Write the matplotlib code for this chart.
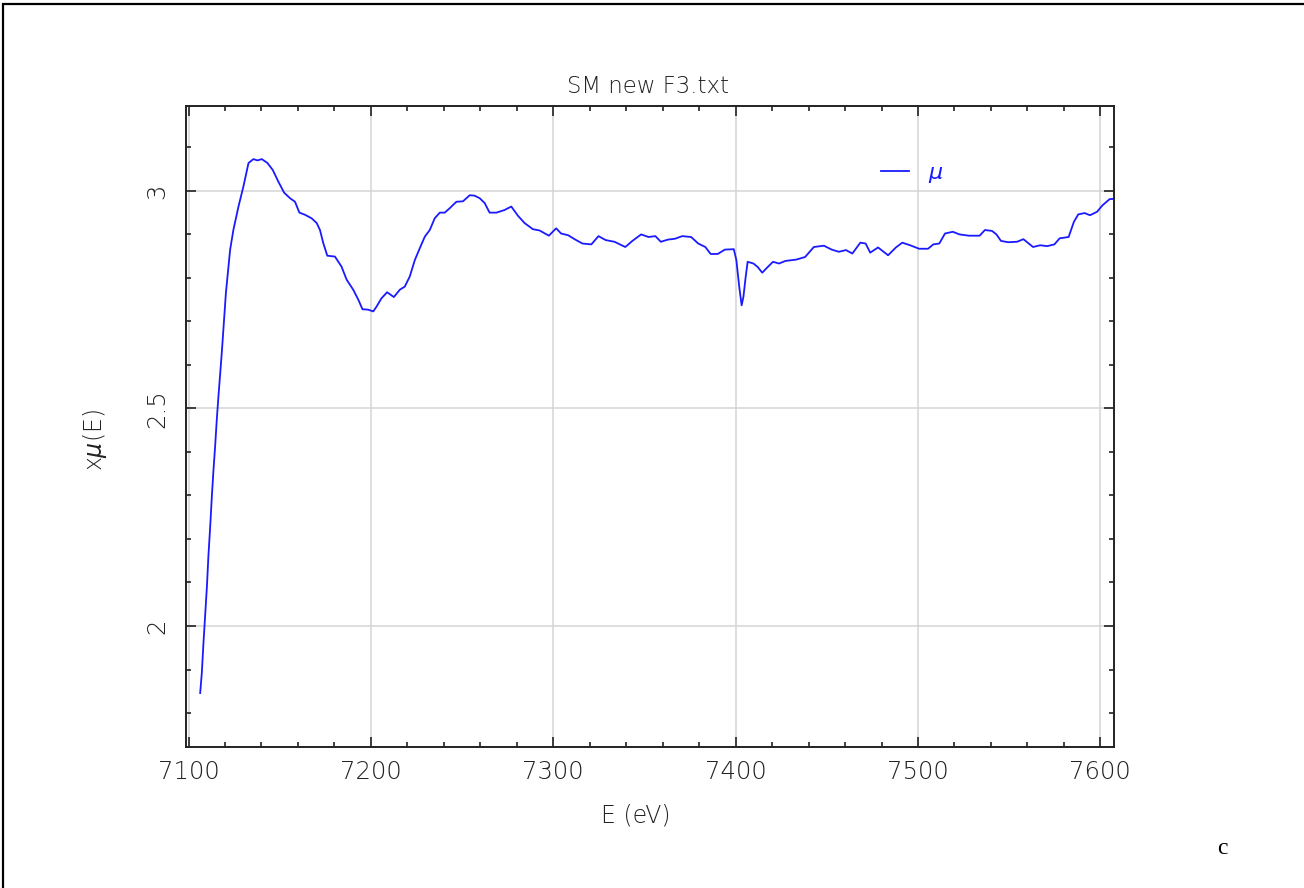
import matplotlib
matplotlib.use("Agg")
import matplotlib.pyplot as plt
from matplotlib.ticker import MultipleLocator
from matplotlib.patches import Rectangle

# energy (eV) and mu values
energy = [
    7106.4, 7107.3, 7108.2, 7109.1, 7110.1, 7110.9, 7111.9, 7112.8, 7113.7, 7114.6,
    7115.5, 7116.4, 7117.4, 7118.3, 7120.5, 7122.8, 7124.6, 7127.4, 7130.1, 7132.9,
    7135.6, 7137.8, 7140.2, 7143.3, 7146.2, 7149.3, 7152.4, 7155.7, 7158.4, 7160.8,
    7163.9, 7167.5, 7170.3, 7172.1, 7173.9, 7176.1, 7180.3, 7183.9, 7186.7, 7190.3,
    7193.1, 7195.4, 7198.5, 7201.3, 7203.1, 7205.8, 7208.9, 7212.6, 7215.9, 7218.6,
    7221.3, 7224.1, 7226.8, 7229.6, 7232.3, 7235.0, 7237.8, 7240.5, 7243.2, 7246.9,
    7250.5, 7254.2, 7256.9, 7259.7, 7262.4, 7265.1, 7268.8, 7273.3, 7277.0, 7280.6,
    7284.3, 7288.8, 7292.5, 7297.6, 7301.6, 7304.3, 7308.2, 7312.1, 7316.0, 7320.9,
    7324.8, 7328.7, 7333.6, 7339.5, 7343.4, 7348.2, 7352.2, 7356.0, 7359.0, 7362.9,
    7366.8, 7370.7, 7375.6, 7379.5, 7383.4, 7386.3, 7390.2, 7394.1, 7399.0, 7400.4,
    7402.0, 7403.3, 7404.3, 7405.5, 7406.6, 7409.8, 7412.1, 7414.6, 7417.6, 7420.5,
    7423.8, 7427.3, 7433.2, 7438.1, 7442.9, 7448.4, 7452.7, 7456.6, 7460.5, 7464.0,
    7468.4, 7471.3, 7473.8, 7478.1, 7483.6, 7487.9, 7491.4, 7495.7, 7500.6, 7505.5,
    7508.4, 7511.7, 7514.8, 7519.1, 7522.7, 7527.9, 7533.8, 7536.7, 7540.6, 7543.0,
    7545.5, 7549.4, 7554.3, 7557.8, 7563.1, 7567.0, 7570.9, 7574.8, 7577.7, 7582.6,
    7585.5, 7587.9, 7591.4, 7594.3, 7598.2, 7601.2, 7605.1, 7608.4,
]
mu = [
    1.846, 1.892, 1.961, 2.022, 2.091, 2.160, 2.229, 2.298, 2.359, 2.413,
    2.474, 2.527, 2.581, 2.631, 2.765, 2.864, 2.910, 2.964, 3.010, 3.064,
    3.073, 3.070, 3.073, 3.064, 3.048, 3.021, 2.996, 2.983, 2.975, 2.950,
    2.945, 2.937, 2.926, 2.910, 2.880, 2.851, 2.849, 2.826, 2.796, 2.773,
    2.750, 2.728, 2.727, 2.723, 2.734, 2.753, 2.767, 2.756, 2.773, 2.780,
    2.803, 2.841, 2.868, 2.895, 2.910, 2.937, 2.950, 2.950, 2.960, 2.975,
    2.976, 2.990, 2.989, 2.983, 2.972, 2.950, 2.950, 2.956, 2.964, 2.943,
    2.926, 2.912, 2.909, 2.897, 2.914, 2.902, 2.898, 2.888, 2.879, 2.877,
    2.896, 2.887, 2.883, 2.871, 2.885, 2.900, 2.894, 2.896, 2.883, 2.888,
    2.890, 2.896, 2.894, 2.879, 2.871, 2.855, 2.855, 2.865, 2.866, 2.841,
    2.779, 2.737, 2.757, 2.802, 2.837, 2.833, 2.825, 2.812, 2.825, 2.837,
    2.833, 2.839, 2.842, 2.848, 2.871, 2.874, 2.865, 2.860, 2.864, 2.856,
    2.881, 2.879, 2.858, 2.870, 2.852, 2.870, 2.881, 2.875, 2.867, 2.867,
    2.877, 2.879, 2.902, 2.906, 2.900, 2.897, 2.897, 2.910, 2.908, 2.900,
    2.885, 2.882, 2.883, 2.889, 2.871, 2.875, 2.873, 2.877, 2.891, 2.894,
    2.929, 2.946, 2.949, 2.944, 2.952, 2.967, 2.981, 2.982,
]

x_ticks = [7100, 7200, 7300, 7400, 7500, 7600]
y_ticks = [2, 2.5, 3]

txt = "#222222"
blue = "#1a1aff"
font = "DejaVu Sans"

fig = plt.figure(figsize=(13.04, 8.88), dpi=100)
ax = fig.add_axes([0.1426, 0.1593, 0.712, 0.7218])

# frame around the page (only top and left edges visible)
fig.patches.append(Rectangle((3 / 1304, -0.1), 1.2, 0.1 + (884 / 888), transform=fig.transFigure,
                             fill=False, edgecolor="black", linewidth=1.6))

ax.plot(energy, mu, color=blue, linewidth=1.3, label=r"$\mu$")

ax.set_xlim(7098.6, 7607.7)
ax.set_ylim(1.723, 3.196)
ax.set_xticks(x_ticks)
ax.set_yticks(y_ticks)
ax.set_yticklabels(["2", "2.5", "3"])
ax.xaxis.set_minor_locator(MultipleLocator(20))
ax.yaxis.set_minor_locator(MultipleLocator(0.1))
ax.grid(True, which="major", color="#d4d4d4", linewidth=1.1)
ax.set_axisbelow(True)

ax.tick_params(which="both", direction="in", top=True, right=True, color="#222222", width=1.2)
ax.tick_params(which="major", length=7)
ax.tick_params(which="minor", length=3.8)
ax.tick_params(axis="x", which="major", pad=10, labelsize=17.5, labelcolor=txt)
ax.tick_params(axis="y", which="major", pad=12, labelsize=17.5, labelcolor=txt)
for lab in ax.get_xticklabels() + ax.get_yticklabels():
    lab.set_family(font)
    lab.set_fontweight("light")
for lab in ax.get_yticklabels():
    lab.set_rotation(90)
    lab.set_va("center")
for s in ax.spines.values():
    s.set_linewidth(1.4)
    s.set_color("#222222")

ax.text(0.4976, 1.029, "SM new F3.txt", transform=ax.transAxes, ha="center", va="center",
        fontsize=16.5, color=txt, family=font, fontweight="light")
ax.set_xlabel("E (eV)", fontsize=17, color=txt, family=font, fontweight="light")
ax.xaxis.set_label_coords(0.4847, -0.108)
ax.xaxis.label.set_va("center")
ax.set_ylabel(r"x$\mu$(E)", fontsize=17, color=txt, family=font, fontweight="light")
ax.yaxis.set_label_coords(-0.098, 0.478)
ax.yaxis.label.set_va("center")

leg = ax.legend(loc="center left", bbox_to_anchor=(0.7485, 0.893), frameon=False,
                handlelength=1.26, handletextpad=0.85, borderpad=0, borderaxespad=0,
                prop={"size": 16}, labelcolor=blue)

fig.text(1222 / 1304, 1 - 848 / 888, "c", ha="center", va="center", fontsize=17,
         family="Liberation Serif", color="black")

fig.savefig("out.png", dpi=100)
